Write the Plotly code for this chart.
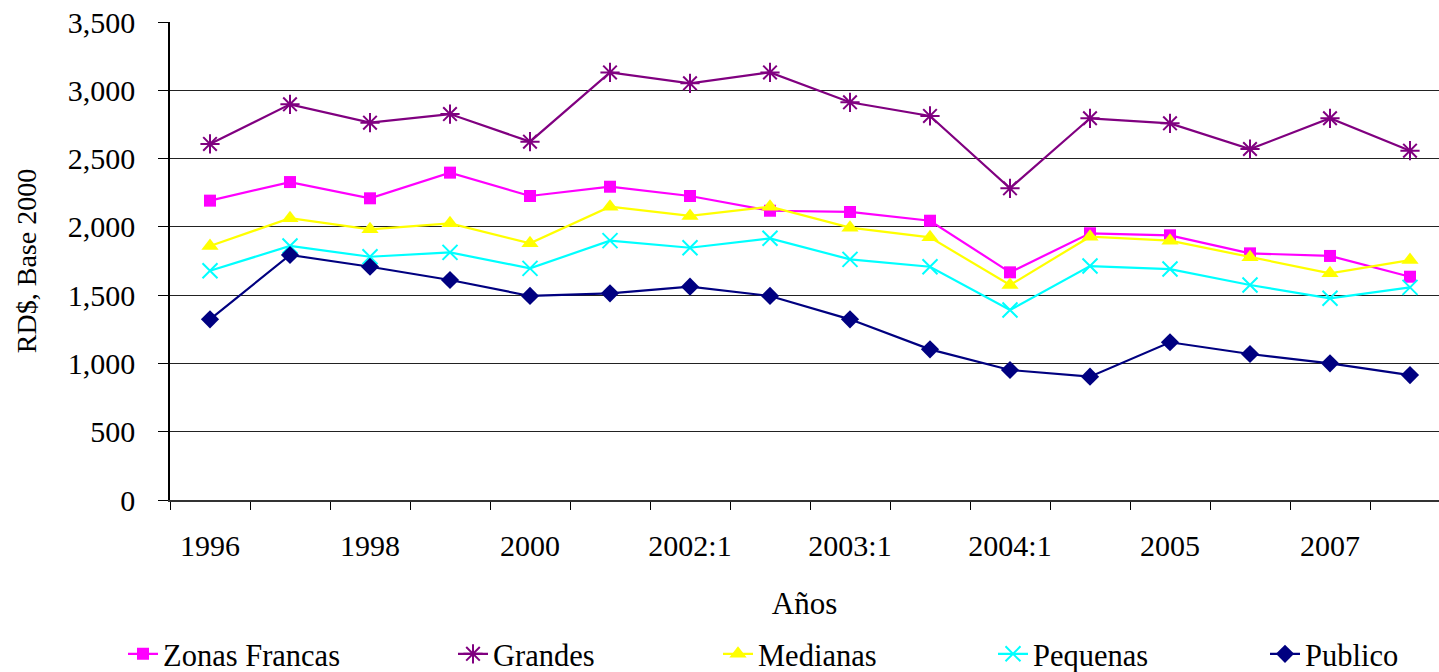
import plotly.graph_objects as go

categories = ["1996", "1997", "1998", "1999", "2000", "2001", "2002:1", "2002:2",
              "2003:1", "2003:2", "2004:1", "2004:2", "2005", "2006", "2007", "2008"]
tick_labels = ["1996", "", "1998", "", "2000", "", "2002:1", "",
               "2003:1", "", "2004:1", "", "2005", "", "2007", ""]

zonas_francas = [2192, 2328, 2209, 2397, 2226, 2294, 2226, 2118, 2109, 2045, 1667, 1953, 1938, 1806, 1787, 1635]
grandes = [2607, 2897, 2763, 2826, 2624, 3131, 3051, 3131, 2912, 2812, 2282, 2795, 2758, 2570, 2795, 2558]
medianas = [1860, 2063, 1982, 2026, 1880, 2148, 2080, 2148, 1994, 1923, 1574, 1928, 1899, 1777, 1660, 1757]
pequenas = [1679, 1860, 1781, 1813, 1696, 1899, 1847, 1916, 1762, 1708, 1391, 1713, 1691, 1574, 1477, 1557]
publico = [1323, 1794, 1708, 1611, 1494, 1513, 1562, 1494, 1323, 1103, 952, 903, 1155, 1069, 1001, 915]

FONT = "Liberation Serif"

series = [
    ("Zonas Francas", zonas_francas, "#FF00FF", "square", 12, "legend"),
    ("Grandes", grandes, "#800080", "asterisk-open", 16, "legend2"),
    ("Medianas", medianas, "#FFFF00", "triangle-up", 15, "legend3"),
    ("Pequenas", pequenas, "#00FFFF", "x-thin-open", 15, "legend4"),
    ("Publico", publico, "#000080", "diamond", 14, "legend5"),
]

fig = go.Figure()
for name, vals, color, sym, size, lg in series:
    fig.add_trace(go.Scatter(
        x=categories, y=vals, name=name, mode="lines+markers",
        line=dict(color=color, width=2.2),
        marker=dict(symbol=sym, size=size, color=color,
                    line=dict(color=color, width=2 if "open" in sym else 0)),
        legend=lg,
    ))

# the page body margin is removed by post_script, so the figure fills the window
W, H = 1439, 672
PLOT_LEFT, PLOT_TOP, PLOT_BOTTOM = 170, 22, 500  # screen px
L = PLOT_LEFT
T = PLOT_TOP
plot_h = PLOT_BOTTOM - PLOT_TOP
B = H - T - plot_h
plot_w = W - L

def px_x(px):
    return (px - PLOT_LEFT) / plot_w

def px_y(py):
    return (PLOT_BOTTOM - py) / plot_h

leg_y = px_y(654)
text_starts = [165, 495, 760, 1035, 1307]
legends = {}
for i, ts in enumerate(text_starts):
    key = "legend" if i == 0 else f"legend{i+1}"
    legends[key] = dict(
        x=px_x(ts - 42), y=leg_y, xanchor="left", yanchor="middle",
        orientation="h", font=dict(family=FONT, size=30.5, color="#000"),
        bgcolor="rgba(0,0,0,0)", borderwidth=0,
    )

fig.update_layout(
    width=W, height=H,
    margin=dict(l=L, r=0, t=T, b=B, pad=0, autoexpand=False),
    paper_bgcolor="white", plot_bgcolor="white",
    font=dict(family=FONT, size=30, color="#000"),
    showlegend=True,
    xaxis=dict(
        type="category", range=[-0.5, -0.5 + plot_w / 80.0],
        tickmode="array", tickvals=categories, ticktext=tick_labels, tickangle=0,
        tickson="boundaries", ticks="outside", ticklen=8, tickwidth=1, tickcolor="#000",
        showline=True, linecolor="#333", linewidth=2, showgrid=False,
        tickfont=dict(family=FONT, size=30), ticklabelstandoff=18, automargin=False,
        title=dict(text="Años", font=dict(family=FONT, size=31), standoff=31),
        fixedrange=True,
    ),
    yaxis=dict(
        range=[0, 3500], dtick=500, tick0=0, tickformat=",",
        ticks="outside", ticklen=10, tickwidth=1, tickcolor="#000",
        showline=True, linecolor="#000", linewidth=1.5,
        showgrid=True, gridcolor="#222", gridwidth=1, zeroline=False,
        tickfont=dict(family=FONT, size=30), ticklabelstandoff=17, automargin=False,
        ticklabeloverflow="allow",
        title=dict(text="RD$, Base 2000", font=dict(family=FONT, size=28), standoff=23),
        fixedrange=True,
    ),
    **legends,
)

fig.write_html(
    "out.html",
    config={"displayModeBar": False},
    post_script="document.body.style.margin='0';document.body.style.overflow='hidden';",
)
